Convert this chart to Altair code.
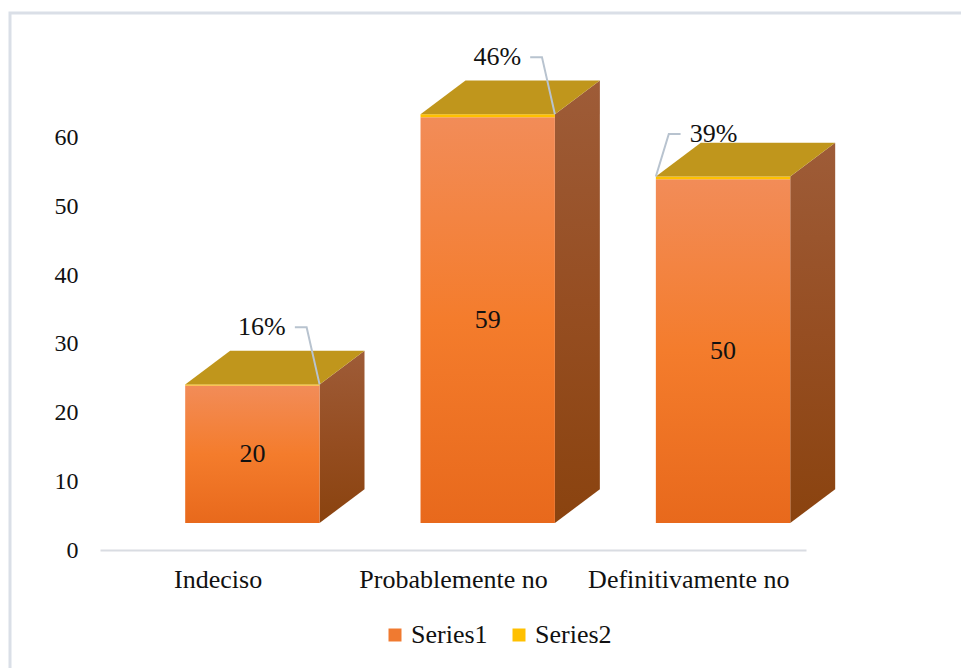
import json
import altair as alt
import pandas as pd

# ---------------- data ----------------
categories = ["Indeciso", "Probablemente no", "Definitivamente no"]
series1 = [20, 59, 50]
series2_pct = [16, 46, 39]
y_ticks = [0, 10, 20, 30, 40, 50, 60]
legend_names = ["Series1", "Series2"]

# ---------------- style constants (data units) ----------------
FRONT_L, FRONT_R = -0.138, 0.433   # front face extent around category index
DEPTH_X, DEPTH_Y = 0.191, 4.9      # 3D depth offset
BASE = 3.93                        # front-face floor height
LABEL_SIDE = [-1, -1, 1]
LABEL_RISE = [8.3, 8.3, 6.2]
ELBOW_DX = 0.055
END_DX = 0.105
TEXT_DX = 0.245
FONT = "Liberation Serif, Times New Roman, serif"
W, H = 706, 550
PAD_L, PAD_T = 100, 0

front_rows, side_rows, top_rows, strip_rows = [], [], [], []
val_rows, pct_rows, leader_rows = [], [], []
for i, (cat, v, p) in enumerate(zip(categories, series1, series2_pct)):
    xl, xr = i + FRONT_L, i + FRONT_R
    y_front = BASE + v
    top = y_front + p / 100.0
    front_rows.append(dict(cat=cat, x=xl, x2=xr, y=BASE, y2=y_front))
    strip_rows.append(dict(cat=cat, series="Series2", x=xl, x2=xr, y=y_front, y2=top))
    side_rows.append(dict(cat=cat, x=xr, y=BASE, y2=top))
    side_rows.append(dict(cat=cat, x=xr + DEPTH_X, y=BASE + DEPTH_Y, y2=top + DEPTH_Y))
    top_rows.append(dict(cat=cat, y=top, x=xl, x2=xr))
    top_rows.append(dict(cat=cat, y=top + DEPTH_Y, x=xl + DEPTH_X, x2=xr + DEPTH_X))
    val_rows.append(dict(cat=cat, x=(xl + xr) / 2, y=BASE + v / 2, label=str(v)))
    s = LABEL_SIDE[i]
    ax = xr if s < 0 else xl
    ly = top + LABEL_RISE[i]
    pct_rows.append(dict(cat=cat, x=ax + s * TEXT_DX, y=ly, label=f"{p}%"))
    leader_rows += [
        dict(cat=cat, o=0, x=ax, y=top),
        dict(cat=cat, o=1, x=ax + s * ELBOW_DX, y=ly),
        dict(cat=cat, o=2, x=ax + s * END_DX, y=ly),
    ]

xscale = alt.Scale(domain=[-0.5, len(categories) - 0.5], nice=False, zero=False)
yscale = alt.Scale(domain=[0, 80], nice=False)

label_expr = json.dumps(categories) + "[datum.value]"
x_axis = alt.Axis(values=list(range(len(categories))), labelExpr=label_expr, title=None,
                  grid=False, ticks=False, domainColor="#D9DCE2", domainWidth=2,
                  labelFont=FONT, labelFontSize=26, labelColor="#111111",
                  labelPadding=16, labelOverlap=False, labelLimit=0)
y_axis = alt.Axis(values=y_ticks, title=None, grid=False, ticks=False, domain=False,
                  labelFont=FONT, labelFontSize=24, labelColor="#111111", labelPadding=22)

X = lambda f="x": alt.X(f"{f}:Q", scale=xscale, axis=x_axis)
Y = lambda f="y": alt.Y(f"{f}:Q", scale=yscale, axis=y_axis, stack=None)

front_grad = alt.Gradient(gradient="linear", x1=0, x2=0, y1=0, y2=1, stops=[
    alt.GradientStop(color="#F28C58", offset=0),
    alt.GradientStop(color="#F47C2C", offset=0.5),
    alt.GradientStop(color="#E8691C", offset=1)])
side_grad = alt.Gradient(gradient="linear", x1=0, x2=0, y1=0, y2=1, stops=[
    alt.GradientStop(color="#9E5C38", offset=0),
    alt.GradientStop(color="#964E22", offset=0.5),
    alt.GradientStop(color="#8A430F", offset=1)])

frame = alt.Chart(alt.Data(values=[{}])).mark_rect(
    fill=None, stroke="#DADFE7", strokeWidth=3).encode(
    x=alt.value(10 - PAD_L), x2=alt.value(980), y=alt.value(13 - PAD_T), y2=alt.value(700))

side = alt.Chart(pd.DataFrame(side_rows)).mark_area(fill=side_grad, orient="vertical").encode(
    x=X(), y=Y(), y2="y2:Q", detail="cat:N")

front = alt.Chart(pd.DataFrame(front_rows)).mark_rect(fill=front_grad).encode(
    x=X(), x2="x2:Q", y=Y(), y2="y2:Q")

strip = alt.Chart(pd.DataFrame(strip_rows)).mark_rect().encode(
    x=X(), x2="x2:Q", y=Y(), y2="y2:Q",
    color=alt.Color("series:N",
                    scale=alt.Scale(domain=legend_names, range=["#F07A30", "#FFC000"]),
                    legend=alt.Legend(orient="none", legendX=282, legendY=622,
                                      direction="horizontal", title=None,
                                      labelFont=FONT, labelFontSize=26, labelColor="#111111",
                                      symbolType="square", symbolSize=169, symbolStrokeWidth=0,
                                      symbolOpacity=1, labelOffset=3, columnPadding=18,
                                      labelLimit=0)))

topface = alt.Chart(pd.DataFrame(top_rows)).mark_area(fill="#C0961C", orient="horizontal").encode(
    y=Y(), x=X(), x2="x2:Q", detail="cat:N")

values_txt = alt.Chart(pd.DataFrame(val_rows)).mark_text(
    font=FONT, fontSize=26, color="#111111", baseline="middle", align="center").encode(
    x=X(), y=Y(), text="label:N")

leaders = alt.Chart(pd.DataFrame(leader_rows)).mark_line(
    color="#B8C3CF", strokeWidth=2).encode(
    x=X(), y=Y(), detail="cat:N", order="o:Q")

pct_txt = alt.Chart(pd.DataFrame(pct_rows)).mark_text(
    font=FONT, fontSize=26, color="#111111", baseline="middle", align="center").encode(
    x=X(), y=Y(), text="label:N")

chart = alt.layer(frame, side, front, strip, topface, values_txt, leaders, pct_txt).properties(
    width=W, height=H, autosize="none", background="white",
    padding={"left": PAD_L, "top": PAD_T, "right": 961 - PAD_L - W, "bottom": 668 - PAD_T - H},
).configure_view(stroke="transparent")

chart.save("out.html", embed_options={"renderer": "svg", "actions": False})
